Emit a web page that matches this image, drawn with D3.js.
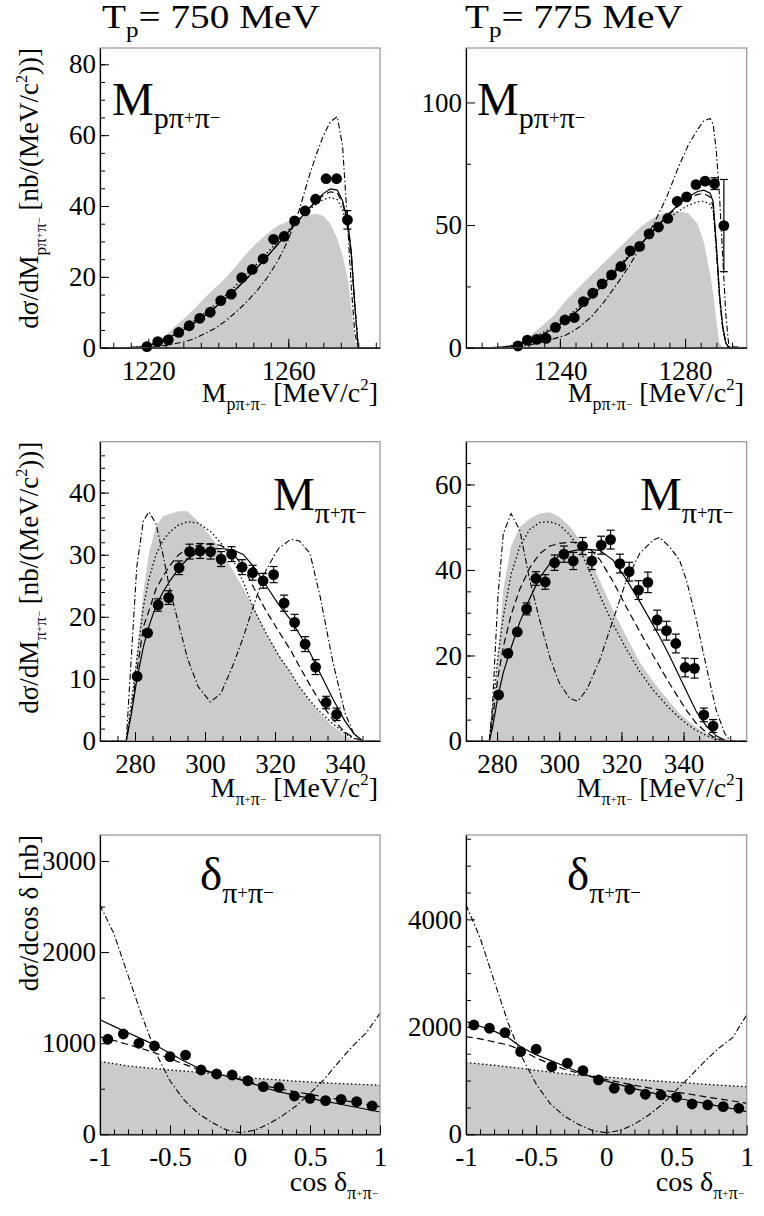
<!DOCTYPE html>
<html>
<head>
<meta charset="utf-8">
<script src="https://cdn.jsdelivr.net/npm/d3@7"></script>
<style>
    body { margin: 0; background: #fff; }
    svg { display: block; }
    svg text { font-family: "Liberation Serif", "Times New Roman", "DejaVu Serif", serif !important; fill: #000; }
</style>
</head>
<body>
<script>

// ---- Tp = 750 MeV, M(p pi+ pi-) ----
const ptsXTL = [1219.6, 1222.7, 1225.7, 1228.7, 1231.7, 1234.7, 1237.7, 1240.7, 1243.7, 1246.7, 1249.7, 1252.8, 1255.8, 1258.8, 1261.8, 1264.8, 1267.8, 1270.8, 1273.8, 1276.9]
const ptsYTL = [0.3, 1.7, 2.2, 4.3, 6.2, 8.3, 10.0, 13.3, 15.1, 19.8, 22.1, 25.1, 30.6, 31.4, 35.8, 38.6, 41.9, 47.7, 47.7, 36.1]
const errTL = [0.3, 0.4, 0.5, 0.6, 0.7, 0.8, 0.9, 1, 1, 1.1, 1.1, 1.2, 1.3, 1.3, 1.4, 1.4, 1.5, 1.5, 1.5, 2.6]
const gridTL = [1206.2, 1214, 1218, 1221, 1224, 1227, 1230, 1233, 1236, 1239, 1242, 1245, 1248, 1251, 1254, 1257, 1260, 1263, 1266, 1268, 1270, 1272, 1274, 1275.5, 1277, 1278, 1279, 1280, 1286.2]
const solidTL = [0, 0, 0.2, 0.8, 2.0, 3.4, 5.0, 6.9, 9.0, 11.3, 13.8, 16.5, 19.4, 22.5, 25.8, 29.2, 32.6, 36.0, 39.4, 41.6, 43.5, 44.8, 44.5, 41.5, 35.5, 27, 12, 0, 0]
const dashedTL = [0, 0, 0.2, 0.8, 2.0, 3.4, 5.0, 6.9, 9.0, 11.3, 13.8, 16.5, 19.4, 22.5, 25.8, 29.2, 32.6, 36.0, 39.3, 41.4, 43.0, 44.0, 43.7, 40.8, 35, 26.5, 12, 0, 0]
const dottedTL = [0, 0, 0.3, 1.0, 2.3, 3.8, 5.5, 7.5, 9.7, 12.1, 14.7, 17.5, 20.5, 23.6, 26.8, 30.0, 33.2, 36.2, 38.9, 40.6, 41.8, 42.4, 41.8, 39.0, 33.5, 25.5, 11.5, 0, 0]
const dashdotTL = [0, 0, 0.05, 0.2, 0.5, 1.0, 1.6, 2.5, 3.9, 5.4, 7.5, 10.0, 12.8, 16.0, 19.8, 24.5, 30.5, 38.5, 48.5, 54.5, 59.8, 63.8, 65.2, 57, 34, 17, 4, 0, 0]
const greyTL = [0, 0, 0, 0, 2.2, 5.5, 8.0, 10.8, 14.0, 16.8, 19.6, 23.0, 26.5, 29.6, 32.2, 34.5, 35.7, 36.6, 37.5, 37.8, 37.2, 35.0, 30.8, 26, 19.5, 11.6, 2.2, 0, 0]

// ---- Tp = 775 MeV, M(p pi+ pi-) ----
const ptsXTR = [1226.6, 1229.6, 1232.6, 1235.6, 1238.6, 1241.6, 1244.6, 1247.5, 1250.5, 1253.5, 1256.5, 1259.5, 1262.5, 1265.5, 1268.5, 1271.5, 1274.5, 1277.5, 1280.5, 1283.5, 1286.4, 1289.4, 1292.4]
const ptsYTR = [0.7, 3.1, 3.4, 3.8, 8.3, 11.3, 12.3, 18.8, 22.2, 26.0, 29.7, 33.1, 39.5, 41.3, 46.4, 49.2, 52.7, 59.7, 61.5, 66.5, 67.9, 66.9, 49.8]
const errTR = [0.4, 0.5, 0.6, 0.7, 0.9, 1, 1.1, 1.2, 1.3, 1.4, 1.5, 1.6, 1.7, 1.7, 1.8, 1.8, 1.9, 2, 2, 2.1, 2.1, 2.4, 18.8]
const gridTR = [1210, 1218, 1222, 1226, 1230, 1234, 1238, 1242, 1246, 1250, 1254, 1258, 1262, 1266, 1270, 1274, 1278, 1281, 1284, 1286, 1288, 1289, 1290, 1291, 1292, 1293, 1294, 1299.7]
const solidTR = [0, 0, 0.2, 1.0, 2.8, 5.0, 7.8, 11.2, 15.5, 20.5, 26, 31.5, 37, 42.5, 48, 53.5, 58.5, 61.5, 63.7, 64.2, 63, 59.5, 42, 22, 9, 2, 0, 0]
const dashedTR = [0, 0, 0.2, 1.0, 2.8, 5.0, 7.8, 11.2, 15.5, 20.5, 26, 31.5, 37, 42.5, 48, 53.3, 58, 60.8, 62.5, 62.8, 61.5, 57.5, 40, 21, 8.5, 2, 0, 0]
const dottedTR = [0, 0, 0.3, 1.3, 3.3, 5.7, 8.7, 12.3, 16.5, 21.5, 27, 32.5, 37.5, 42.5, 47.3, 51.8, 55.8, 58, 59.5, 59.7, 58.5, 55.5, 41, 21, 8, 2, 0, 0]
const dashdotTR = [0, 0, 0.1, 0.4, 1.0, 2.2, 3.6, 5.2, 8.2, 12.5, 18.5, 25.5, 33, 41.5, 50.5, 61, 74, 82.5, 89, 92.5, 93.5, 91, 80, 62, 38, 14, 0.5, 0]
const greyTR = [0, 0, 0, 0.8, 4.5, 8.5, 13.0, 19.3, 24.5, 29.5, 34.5, 39.5, 44.5, 49.5, 53.0, 55.3, 55.5, 54.8, 50.5, 43, 30, 22, 11, 2, 0, 0, 0, 0]

// ---- Tp = 750 MeV, M(pi+ pi-) ----
const ptsXML = [280.6, 283.6, 286.6, 289.6, 292.6, 295.6, 298.6, 301.6, 304.6, 307.6, 310.6, 313.6, 316.6, 319.6, 322.6, 325.6, 328.6, 331.6, 334.6, 337.6]
const ptsYML = [10.4, 17.4, 21.9, 23.1, 27.9, 30.5, 30.6, 30.5, 29.3, 30.1, 28.0, 27.1, 25.8, 26.8, 22.2, 19.1, 15.6, 11.9, 6.2, 4.3]
const errML = [0.5, 0.8, 1.0, 1.1, 1.1, 1.2, 1.2, 1.2, 1.2, 1.2, 1.2, 1.2, 1.2, 1.3, 1.3, 1.3, 1.2, 1.2, 1.0, 1.0]
const gridML = [270, 277.5, 279, 280.5, 282.4, 284, 286, 288, 290, 292.5, 295, 298, 301.5, 304.5, 308, 311, 314, 317.5, 321, 324.5, 327, 330, 333, 336.5, 340, 342.5, 345, 350]
const solidML = [0, 0, 4.5, 9.8, 15.2, 18.5, 21.8, 24, 25.8, 27.8, 29.3, 30.4, 30.9, 31, 30.8, 30, 28, 25, 22, 19.5, 17.2, 14.2, 10.8, 6.8, 3.2, 1.2, 0, 0]
const dashedML = [0, 0, 5, 11, 18.4, 21, 24.5, 26.5, 28.3, 30, 31, 31.5, 31.8, 31.5, 30.2, 28, 24.6, 20.9, 17.7, 14.6, 12, 9, 6.2, 3.5, 1.4, 0.5, 0, 0]
const dottedML = [0, 0, 6.5, 13, 21.6, 26.2, 30, 32.3, 33.7, 34.8, 35.3, 35.1, 33.8, 31.9, 29.2, 25.5, 21.2, 17.3, 13.8, 11, 8.7, 6.5, 4.6, 2.8, 1.2, 0.4, 0, 0]
const dashdotML = [0, 0, 14, 28, 35.5, 36.9, 35, 30, 24.3, 18.8, 13.3, 8.8, 6.3, 7.6, 12.2, 16.8, 22, 27.6, 31, 32.5, 32.2, 30.2, 23, 12.8, 4.5, 1.2, 0, 0]
const greyML = [0, 0, 6, 14, 24, 30.3, 34.6, 36.2, 36.6, 37, 37, 35.4, 33, 30.8, 27.4, 24.5, 21.4, 17.4, 14, 11, 8.8, 6.4, 4.4, 2.4, 0.9, 0.1, 0, 0]

// ---- Tp = 775 MeV, M(pi+ pi-) ----
const ptsXMR = [280.5, 283.5, 286.5, 289.5, 292.5, 295.5, 298.5, 301.5, 304.5, 307.5, 310.5, 313.5, 316.5, 319.5, 322.5, 325.5, 328.5, 331.5, 334.5, 337.5, 340.5, 343.5, 346.5, 349.5]
const ptsYMR = [10.8, 20.5, 25.5, 30.9, 38.0, 37.2, 41.7, 43.7, 42.1, 45.6, 42.1, 45.8, 47.1, 41.5, 39.6, 35.3, 37.1, 28.3, 25.8, 22.8, 17.2, 17.0, 6.1, 3.5]
const errMR = [0.8, 1.0, 1.2, 1.4, 1.6, 1.7, 1.8, 1.9, 2.0, 2.0, 2.0, 2.1, 2.2, 2.2, 2.2, 2.2, 2.4, 2.3, 2.2, 2.2, 2.2, 2.3, 1.6, 1.5]
const gridMR = [270, 277.5, 278.5, 280.3, 282, 284.5, 287.3, 290.5, 293.7, 297, 300, 303.3, 306, 309, 313, 317.3, 321.6, 325.9, 330.2, 332.3, 335.5, 338.7, 341, 344, 347.3, 350.5, 353.2, 355, 360.3]
const solidMR = [0, 0, 3, 10.5, 16, 21.8, 27.8, 33.3, 38.2, 41.5, 43.3, 44.3, 44.7, 44.8, 44.6, 42.3, 37.8, 32.6, 27.1, 24.4, 19.9, 15, 11.5, 7, 3.5, 1.2, 0.2, 0, 0]
const dashedMR = [0, 0, 5, 15, 22, 29.5, 35.5, 40.5, 43.8, 45.6, 46.2, 46.5, 46.4, 45.6, 42.5, 37.3, 31.3, 25.6, 20, 17.4, 13.4, 9.7, 7.1, 4.2, 2, 0.6, 0, 0, 0]
const dottedMR = [0, 0, 7, 20, 29, 39, 45.5, 49.5, 51.1, 51.3, 50.5, 48.3, 45.5, 41, 34.1, 27.3, 21.5, 16.2, 11.9, 10.2, 7.6, 5.4, 4, 2.5, 1.3, 0.4, 0, 0, 0]
const dashdotMR = [0, 0, 8, 34, 48.5, 53.2, 49.3, 37.6, 28.3, 19.5, 13.6, 10, 9.3, 12.2, 18.9, 28.3, 37.6, 43.9, 47, 47.6, 45.4, 42.3, 37.4, 28.6, 17.4, 7.2, 1.8, 0, 0]
const greyMR = [0, 0, 6, 20, 35.5, 45.5, 50.1, 52, 53.2, 53.5, 52.4, 50.3, 47.6, 43.8, 37.6, 30.6, 24.4, 18.5, 13.9, 12, 9.1, 6.5, 5, 3.2, 1.8, 0.7, 0, 0, 0]

// ---- cos delta (both energies) ----
const cosPts = [-0.944, -0.833, -0.722, -0.611, -0.5, -0.389, -0.278, -0.167, -0.056, 0.056, 0.167, 0.278, 0.389, 0.5, 0.611, 0.722, 0.833, 0.944]
const cosGrid = [-1, -0.9, -0.8, -0.7, -0.6, -0.5, -0.4, -0.3, -0.2, -0.1, 0, 0.1, 0.2, 0.3, 0.4, 0.5, 0.6, 0.7, 0.8, 0.9, 1]

const ptsYBL = [1043, 1101, 999, 969, 852, 870, 706, 662, 651, 588, 523, 516, 420, 395, 369, 384, 358, 311]
const errBL = [35, 35, 33, 33, 30, 30, 28, 27, 27, 25, 24, 24, 22, 22, 21, 21, 20, 20]
const solidBL = [1258, 1185, 1115, 1045, 975, 890, 805, 730, 680, 640, 600, 550, 500, 460, 425, 395, 365, 335, 305, 275, 245]
const dashedBL = [1070, 1030, 985, 940, 890, 830, 770, 715, 675, 640, 605, 565, 525, 495, 465, 440, 410, 385, 355, 330, 303]
const greyBL = [797, 775, 750, 735, 720, 705, 695, 680, 665, 645, 630, 615, 605, 595, 582, 575, 565, 558, 552, 545, 540]
const dashdotBL = [2517, 2200, 1745, 1297, 890, 588, 377, 231, 130, 50, 18, 42, 110, 200, 310, 450, 600, 785, 960, 1110, 1328]

const ptsYBR = [2035, 1974, 1892, 1538, 1583, 1259, 1322, 1184, 1011, 857, 838, 745, 732, 689, 564, 546, 514, 484]
const errBR = [60, 60, 58, 55, 55, 50, 50, 48, 45, 42, 42, 40, 40, 38, 36, 36, 35, 35]
const solidBR = [2100, 2010, 1920, 1800, 1610, 1480, 1375, 1270, 1160, 1065, 990, 920, 850, 785, 730, 675, 625, 575, 525, 475, 421]
const dashedBR = [1818, 1775, 1720, 1665, 1560, 1420, 1310, 1210, 1140, 1075, 1020, 965, 912, 865, 822, 785, 745, 700, 660, 620, 577]
const greyBR = [1335, 1310, 1285, 1255, 1225, 1190, 1160, 1128, 1100, 1085, 1065, 1045, 1022, 1003, 985, 968, 950, 932, 915, 900, 886]
const dashdotBR = [4272, 3661, 2860, 2076, 1428, 935, 570, 340, 185, 70, 30, 72, 190, 355, 560, 825, 1085, 1355, 1600, 1800, 2222]


const W = 764
const H = 1216
const FONT = '"Liberation Serif", "Times New Roman", "DejaVu Serif", serif'

const svg = d3.select('body')
    .append('svg')
        .attr('width', W)
        .attr('height', H)
        .attr('font-family', FONT)

const cols = [[100, 380], [466, 746.7]]
const rows = [[48, 347.7], [441.7, 741], [835, 1134.3]]

// sub / superscript handling for the physics labels
const partStyle = {
    n: { size: 1, shift: 0 },
    sub: { size: 0.64, shift: 0.28 },
    ss: { size: 0.4, shift: 0.2 },
    sup: { size: 0.6, shift: -0.42 }
}

const richText = (g, parts, size) => {
    const t = g.append('text').attr('font-size', size).attr('font-family', FONT)
    let cur = 0
    parts.forEach(([txt, kind]) => {
        const st = partStyle[kind || 'n']
        const target = st.shift * size
        t.append('tspan')
            .attr('font-size', st.size * size)
            .attr('dy', target - cur)
            .text(txt)
        cur = target
    })
    return t
}

const subPPP = [['pπ', 'sub'], ['+', 'ss'], ['π', 'sub'], ['−', 'ss']]
const subPP = [['π', 'sub'], ['+', 'ss'], ['π', 'sub'], ['−', 'ss']]

const panels = [
    { col: 0, row: 0, xDom: [1206.2, 1286.2], yDom: [0, 84.6],
      xTicks: [1220, 1260], xMinor: d3.range(1210, 1286, 5), yTicks: [0, 20, 40, 60, 80], yMinor: d3.range(5, 85, 5),
      grid: gridTL, grey: greyTL, solid: solidTL, dashed: dashedTL, dotted: dottedTL, dashdot: dashdotTL,
      px: ptsXTL, py: ptsYTL, err: errTL,
      label: [['M'], ...subPPP], labelPos: [112, 115] },
    { col: 1, row: 0, xDom: [1210, 1299.7], yDom: [0, 122.2],
      xTicks: [1240, 1280], xMinor: d3.range(1215, 1300, 5), yTicks: [0, 50, 100], yMinor: [25, 75],
      grid: gridTR, grey: greyTR, solid: solidTR, dashed: dashedTR, dotted: dottedTR, dashdot: dashdotTR,
      px: ptsXTR, py: ptsYTR, err: errTR,
      label: [['M'], ...subPPP], labelPos: [477, 115] },
    { col: 0, row: 1, xDom: [270, 350], yDom: [0, 48.2],
      xTicks: [280, 300, 320, 340], xMinor: d3.range(275, 350, 5), yTicks: [0, 10, 20, 30, 40], yMinor: d3.range(2, 48, 2),
      grid: gridML, grey: greyML, solid: solidML, dashed: dashedML, dotted: dottedML, dashdot: dashdotML,
      px: ptsXML, py: ptsYML, err: errML,
      label: [['M'], ...subPP], labelPos: [273, 510] },
    { col: 1, row: 1, xDom: [270, 360.3], yDom: [0, 70],
      xTicks: [280, 300, 320, 340], xMinor: d3.range(275, 360, 5), yTicks: [0, 20, 40, 60], yMinor: d3.range(5, 70, 5),
      grid: gridMR, grey: greyMR, solid: solidMR, dashed: dashedMR, dotted: dottedMR, dashdot: dashdotMR,
      px: ptsXMR, py: ptsYMR, err: errMR,
      label: [['M'], ...subPP], labelPos: [640, 510] },
    { col: 0, row: 2, xDom: [-1, 1], yDom: [0, 3285],
      xTicks: [-1, -0.5, 0, 0.5, 1], xMinor: d3.range(-9, 10).map(d => d / 10), yTicks: [0, 1000, 2000, 3000], yMinor: [500, 1500, 2500],
      grid: cosGrid, grey: greyBL, solid: solidBL, dashed: dashedBL, dotted: greyBL, dashdot: dashdotBL,
      px: cosPts, py: ptsYBL, err: errBL,
      label: [['δ'], ...subPP], labelPos: [200, 890] },
    { col: 1, row: 2, xDom: [-1, 1], yDom: [0, 5570],
      xTicks: [-1, -0.5, 0, 0.5, 1], xMinor: d3.range(-9, 10).map(d => d / 10), yTicks: [0, 2000, 4000], yMinor: [500, 1000, 1500, 2500, 3000, 3500, 4500, 5000, 5500],
      grid: cosGrid, grey: greyBR, solid: solidBR, dashed: dashedBR, dotted: greyBR, dashdot: dashdotBR,
      px: cosPts, py: ptsYBR, err: errBR,
      label: [['δ'], ...subPP], labelPos: [567, 890] }
]

const lineStyles = [
    { key: 'dotted', dash: '1.5,2.5', width: 1.3 },
    { key: 'dashed', dash: '7,4', width: 1.2 },
    { key: 'solid', dash: null, width: 1.2 },
    { key: 'dashdot', dash: '6,2.5,1.5,2.5', width: 1.1 }
]

const R = 5.4

const drawPanel = (p) => {
    const [x0, x1] = cols[p.col]
    const [y0, y1] = rows[p.row]
    const x = d3.scaleLinear().domain(p.xDom).range([x0, x1])
    const y = d3.scaleLinear().domain(p.yDom).range([y1, y0])
    const g = svg.append('g')

    // grey simulation histogram
    g.append('path')
        .datum(d3.zip(p.grid, p.grey))
        .attr('d', d3.area().x(d => x(d[0])).y0(y(0)).y1(d => y(d[1])))
        .attr('fill', '#cbcbcb')

    // model curves
    lineStyles.forEach(s => {
        g.append('path')
            .datum(d3.zip(p.grid, p[s.key]))
            .attr('d', d3.line().x(d => x(d[0])).y(d => y(d[1])))
            .attr('fill', 'none')
            .attr('stroke', '#000')
            .attr('stroke-width', s.width)
            .attr('stroke-dasharray', s.dash)
    })

    // error bars (only where they stick out of the marker)
    const pts = p.px.map((v, i) => ({ x: v, y: p.py[i], e: p.err[i] }))
    const bars = g.selectAll('.err')
        .data(pts.filter(d => y(0) - y(d.e) > R))
        .enter()
        .append('g')
            .attr('class', 'err')
            .attr('stroke', '#000')
            .attr('stroke-width', 1.2)
    bars.append('line')
        .attr('x1', d => x(d.x)).attr('x2', d => x(d.x))
        .attr('y1', d => y(d.y - d.e)).attr('y2', d => y(d.y + d.e))
    bars.append('line')
        .attr('x1', d => x(d.x) - 4).attr('x2', d => x(d.x) + 4)
        .attr('y1', d => y(d.y + d.e)).attr('y2', d => y(d.y + d.e))
    bars.append('line')
        .attr('x1', d => x(d.x) - 4).attr('x2', d => x(d.x) + 4)
        .attr('y1', d => y(d.y - d.e)).attr('y2', d => y(d.y - d.e))

    g.selectAll('.pt')
        .data(pts)
        .enter()
        .append('circle')
            .attr('class', 'pt')
            .attr('cx', d => x(d.x))
            .attr('cy', d => y(d.y))
            .attr('r', R)
            .attr('fill', '#000')

    // frame
    g.append('rect')
        .attr('x', x0).attr('y', y0)
        .attr('width', x1 - x0).attr('height', y1 - y0)
        .attr('fill', 'none')
        .attr('stroke', '#a08e8e')
        .attr('stroke-width', 1.2)

    const fmt = d => String(d)

    const minorY = g.append('g')
        .attr('transform', `translate(${x0},0)`)
        .call(d3.axisLeft(y).tickValues(p.yMinor).tickSize(-5).tickFormat(() => ''))
    minorY.select('.domain').remove()

    const minorX = g.append('g')
        .attr('transform', `translate(0,${y1})`)
        .call(d3.axisBottom(x).tickValues(p.xMinor).tickSize(-5).tickFormat(() => ''))
    minorX.select('.domain').remove()

    g.append('g')
        .attr('transform', `translate(${x0},0)`)
        .call(d3.axisLeft(y).tickValues(p.yTicks).tickSize(-9).tickSizeOuter(0).tickPadding(4).tickFormat(fmt))
        .attr('font-family', FONT)
        .attr('font-size', 27)

    g.append('g')
        .attr('transform', `translate(0,${y1})`)
        .call(d3.axisBottom(x).tickValues(p.xTicks).tickSize(-9).tickSizeOuter(0).tickPadding(13).tickFormat(fmt))
        .attr('font-family', FONT)
        .attr('font-size', 27)

    g.selectAll('.domain').attr('stroke-width', 1.2)

    // big panel label
    const lg = g.append('g').attr('transform', `translate(${p.labelPos[0]},${p.labelPos[1]})`)
    richText(lg, p.label, 47)
}

panels.forEach(drawPanel)

// column titles
const colTitle = (x, energy) => {
    const g = svg.append('g')
    const t = richText(g, [['T'], ['p', 'sub'], [`= ${energy} MeV`]], 33)
    const bw = t.node().getBBox().width
    g.attr('transform', `translate(${x},28) scale(${218 / bw},1)`)
}
colTitle(102, 750)
colTitle(465, 775)

// x axis titles
const xTitle = (x, yPos, parts) => {
    const g = svg.append('g').attr('transform', `translate(${x},${yPos})`)
    richText(g, parts, 28).attr('text-anchor', 'end')
}
const massUnit = [[' [MeV/c'], ['2', 'sup'], [']']]
xTitle(378, 402, [['M'], ...subPPP, ...massUnit])
xTitle(744, 402, [['M'], ...subPPP, ...massUnit])
xTitle(378, 797, [['M'], ...subPP, ...massUnit])
xTitle(744, 797, [['M'], ...subPP, ...massUnit])
xTitle(378, 1191, [['cos δ'], ...subPP])
xTitle(744, 1191, [['cos δ'], ...subPP])

// y axis titles (left column only)
const yTitle = (top, parts) => {
    const g = svg.append('g').attr('transform', `translate(38,${top}) rotate(-90)`)
    richText(g, parts, 27).attr('text-anchor', 'end')
}
const densUnit = [[' [nb/(MeV/c'], ['2', 'sup'], ['))]']]
yTitle(rows[0][0], [['dσ/dM'], ...subPPP, ...densUnit])
yTitle(rows[1][0], [['dσ/dM'], ...subPP, ...densUnit])
yTitle(rows[2][0], [['dσ/dcos δ [nb]']])

</script>
</body>
</html>
